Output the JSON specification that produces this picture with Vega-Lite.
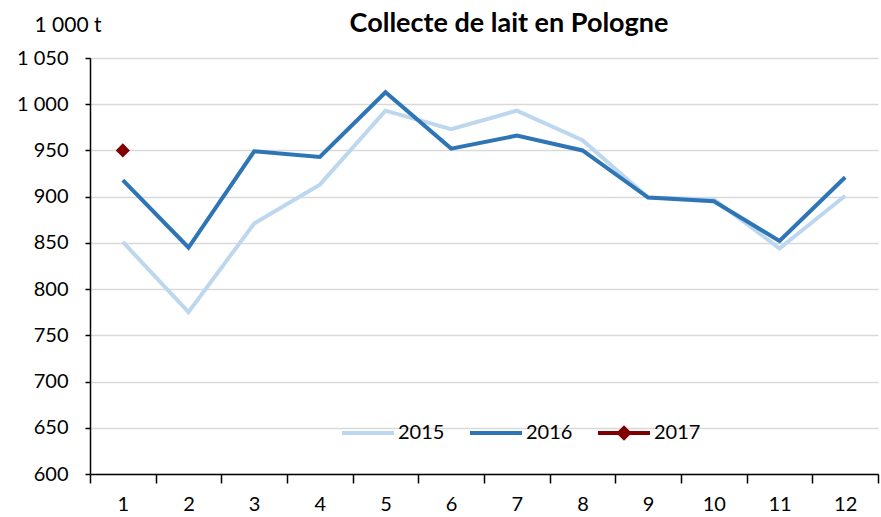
{
  "$schema": "https://vega.github.io/schema/vega-lite/v6.json",
  "width": 788,
  "height": 416,
  "autosize": {"type": "none"},
  "padding": {"left": 90, "top": 58, "right": 3, "bottom": 43},
  "background": "white",
  "config": {
    "font": "Lato",
    "view": {"stroke": null}
  },
  "title": {
    "text": "Collecte de lait en Pologne",
    "fontSize": 27,
    "fontWeight": "bold",
    "font": "Lato",
    "color": "#000000",
    "anchor": "middle",
    "dx": 25,
    "dy": 69,
    "offset": 24,
    "baseline": "alphabetic"
  },
  "data": {
    "values": [
      {"month": "1", "year": "2015", "value": 851},
      {"month": "2", "year": "2015", "value": 775},
      {"month": "3", "year": "2015", "value": 871},
      {"month": "4", "year": "2015", "value": 913},
      {"month": "5", "year": "2015", "value": 993},
      {"month": "6", "year": "2015", "value": 973},
      {"month": "7", "year": "2015", "value": 993},
      {"month": "8", "year": "2015", "value": 961},
      {"month": "9", "year": "2015", "value": 899},
      {"month": "10", "year": "2015", "value": 897},
      {"month": "11", "year": "2015", "value": 844},
      {"month": "12", "year": "2015", "value": 901},
      {"month": "1", "year": "2016", "value": 918},
      {"month": "2", "year": "2016", "value": 845},
      {"month": "3", "year": "2016", "value": 949},
      {"month": "4", "year": "2016", "value": 943},
      {"month": "5", "year": "2016", "value": 1013},
      {"month": "6", "year": "2016", "value": 952},
      {"month": "7", "year": "2016", "value": 966},
      {"month": "8", "year": "2016", "value": 950},
      {"month": "9", "year": "2016", "value": 899},
      {"month": "10", "year": "2016", "value": 895},
      {"month": "11", "year": "2016", "value": 852},
      {"month": "12", "year": "2016", "value": 921},
      {"month": "1", "year": "2017", "value": 950}
    ]
  },
  "encoding": {
    "x": {
      "field": "month",
      "type": "ordinal",
      "sort": ["1","2","3","4","5","6","7","8","9","10","11","12"],
      "scale": {"type": "band", "paddingInner": 0, "paddingOuter": 0, "domain": ["1","2","3","4","5","6","7","8","9","10","11","12"]},
      "bandPosition": 0.5,
      "axis": {
        "title": null,
        "labelAngle": 0,
        "labelFontSize": 20,
        "labelColor": "#000000",
        "labelPadding": 11,
        "tickBand": "extent",
        "tickSize": 9,
        "tickColor": "#000000",
        "tickWidth": 1.5,
        "domainColor": "#000000",
        "domainWidth": 1.5,
        "grid": false
      }
    },
    "y": {
      "field": "value",
      "type": "quantitative",
      "scale": {"domain": [600, 1050], "nice": false, "zero": false},
      "axis": {
        "values": [600, 650, 700, 750, 800, 850, 900, 950, 1000, 1050],
        "labelExpr": "replace(format(datum.value, ',d'), ',', ' ')",
        "labelFontSize": 20,
        "labelColor": "#000000",
        "labelPadding": 17,
        "tickSize": 5,
        "tickColor": "#000000",
        "tickWidth": 1.5,
        "domainColor": "#000000",
        "domainWidth": 1.5,
        "gridColor": "#d9d9d9",
        "gridWidth": 1.5,
        "title": "1 000 t",
        "titleAngle": 0,
        "titleFontSize": 21,
        "titleFontWeight": "normal",
        "titleColor": "#000000",
        "titleAlign": "left",
        "titleBaseline": "middle",
        "titleX": -56,
        "titleY": -33
      }
    },
    "color": {
      "field": "year",
      "type": "nominal",
      "scale": {"domain": ["2015", "2016", "2017"], "range": ["#bdd7ee", "#2e75b6", "#7f0000"]},
      "legend": {
        "title": null,
        "orient": "none",
        "direction": "horizontal",
        "legendX": 252,
        "legendY": 349,
        "labelFontSize": 20,
        "labelColor": "#000000",
        "labelOffset": 4,
        "columnPadding": 25,
        "symbolSize": 2704,
        "encode": {
          "symbols": {
            "update": {
              "shape": {"signal": "datum.value === '2017' ? 'M-1,-0.077H1V0.077H-1Z M-0.3,0L0,-0.3L0.3,0L0,0.3Z' : 'M-1,-0.077H1V0.077H-1Z M0,-0.3L0,-0.3Z M0,0.3L0,0.3Z'"},
              "fill": {"signal": "scale('color', datum.value)"},
              "strokeWidth": {"value": 0}
            }
          }
        }
      }
    }
  },
  "layer": [
    {
      "mark": {"type": "line", "strokeWidth": 4, "strokeJoin": "miter"},
      "transform": [{"filter": "datum.year !== '2017'"}]
    },
    {
      "mark": {"type": "point", "shape": "diamond", "filled": true, "size": 200, "opacity": 1},
      "transform": [{"filter": "datum.year === '2017'"}]
    }
  ]
}
